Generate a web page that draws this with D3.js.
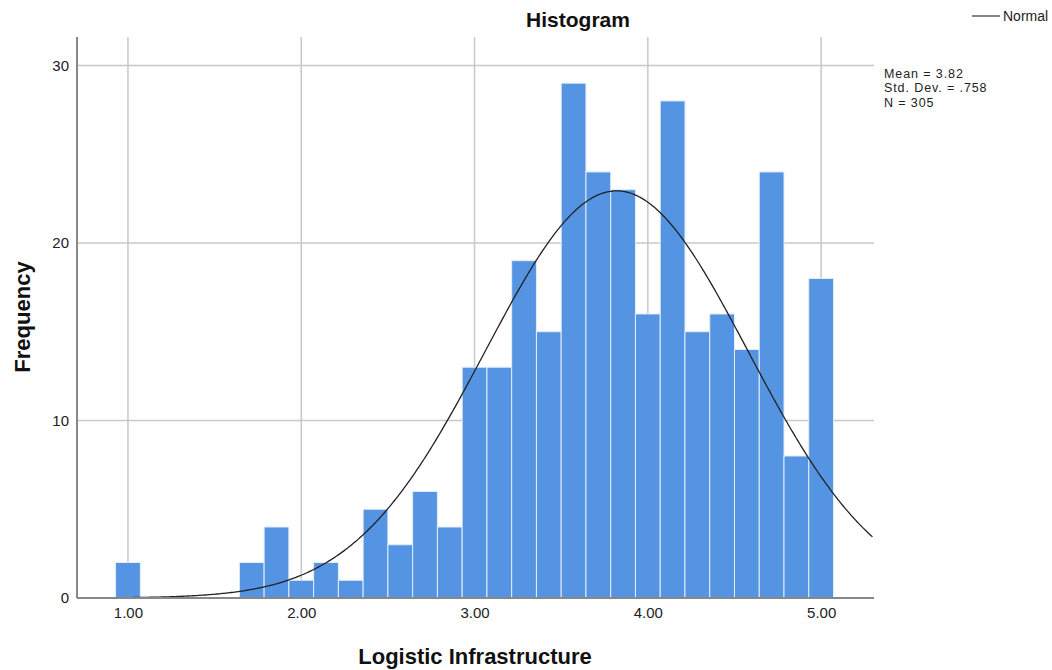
<!DOCTYPE html>
<html><head><meta charset="utf-8">
<script src="https://cdn.jsdelivr.net/npm/d3@7"></script>
<style>body{margin:0;background:#fff}svg{font-family:"Liberation Sans",Arial,sans-serif}</style>
</head><body><svg id="c" width="1052" height="670"></svg>
<script>
const binCenters = [1.0, 1.7143, 1.8571, 2.0, 2.1429, 2.2857, 2.4286, 2.5714, 2.7143, 2.8571, 3.0, 3.1429, 3.2857, 3.4286, 3.5714, 3.7143, 3.8571, 4.0, 4.1429, 4.2857, 4.4286, 4.5714, 4.7143, 4.8571, 5.0];
const counts = [2, 2, 4, 1, 2, 1, 5, 3, 6, 4, 13, 13, 19, 15, 29, 24, 23, 16, 28, 15, 16, 14, 24, 8, 18];
const binWidth = 1/7;
const xTicks = [1, 2, 3, 4, 5];
const yTicks = [0, 10, 20, 30];
const stats = {mean: 3.82, sd: 0.758, n: 305};
const statLabels = ["Mean = 3.82", "Std. Dev. = .758", "N = 305"];

const svg = d3.select("#c");
const L = 77, R = 874, T = 37, B = 598;
const x = d3.scaleLinear().domain([0.706, 5.305]).range([L, R]);
const y = d3.scaleLinear().domain([0, 31.6]).range([B, T]);

// gridlines
svg.append("g").selectAll("line").data(xTicks).join("line")
  .attr("x1", d => x(d)).attr("x2", d => x(d)).attr("y1", T).attr("y2", B)
  .attr("stroke", "#c8c8c8").attr("stroke-width", 1.5);
svg.append("g").selectAll("line").data(yTicks.filter(d => d > 0)).join("line")
  .attr("x1", L).attr("x2", R).attr("y1", d => y(d)).attr("y2", d => y(d))
  .attr("stroke", "#c8c8c8").attr("stroke-width", 1.5);

// bars
svg.append("g").selectAll("rect").data(binCenters).join("rect")
  .attr("x", (d) => x(d - binWidth/2))
  .attr("width", (d) => x(d + binWidth/2) - x(d - binWidth/2))
  .attr("y", (d, i) => y(counts[i]))
  .attr("height", (d, i) => y(0) - y(counts[i]))
  .attr("fill", "#5594e2").attr("stroke", "#e4edf9").attr("stroke-width", 1);

// normal curve
const xs = d3.range(0.706, 5.306, 0.01);
const pdf = v => stats.n * binWidth * Math.exp(-0.5 * ((v - stats.mean)/stats.sd)**2) / (stats.sd * Math.sqrt(2*Math.PI));
svg.append("path").datum(xs)
  .attr("d", d3.line().x(d => x(d)).y(d => y(pdf(d))))
  .attr("fill", "none").attr("stroke", "#222").attr("stroke-width", 1.3);

// axes
const xAxis = svg.append("g").attr("transform", `translate(0,${B})`)
  .call(d3.axisBottom(x).tickValues(xTicks).tickFormat(d3.format(".2f")).tickSize(0).tickPadding(9));
const yAxis = svg.append("g").attr("transform", `translate(${L},0)`)
  .call(d3.axisLeft(y).tickValues(yTicks).tickFormat(d3.format("d")).tickSize(0).tickPadding(8));
[xAxis, yAxis].forEach(a => {
  a.select(".domain").attr("stroke", "#888").attr("stroke-width", 2);
  a.selectAll("text").attr("font-size", 15).attr("fill", "#222").attr("font-family", "Liberation Sans, Arial, sans-serif");
});
xAxis.select(".domain").attr("d", `M${L},0H${R}`);
yAxis.select(".domain").attr("d", `M0,${T}V${B}`);

// titles
svg.append("text").attr("x", 578).attr("y", 27).attr("text-anchor", "middle")
  .attr("font-size", 21).attr("font-weight", "bold").attr("fill", "#111").text("Histogram");
svg.append("text").attr("x", 475).attr("y", 664).attr("text-anchor", "middle")
  .attr("font-size", 22).attr("font-weight", "bold").attr("fill", "#111").text("Logistic Infrastructure");
svg.append("text").attr("transform", "translate(30,317) rotate(-90)").attr("text-anchor", "middle")
  .attr("font-size", 22).attr("font-weight", "bold").attr("fill", "#111").text("Frequency");

// legend
svg.append("line").attr("x1", 972).attr("x2", 1000).attr("y1", 16).attr("y2", 16).attr("stroke", "#444").attr("stroke-width", 1.3);
svg.append("text").attr("x", 1003).attr("y", 21).attr("font-size", 14).attr("fill", "#222").text("Normal");

// stats
svg.append("g").selectAll("text").data(statLabels).join("text")
  .attr("x", 884).attr("y", (d, i) => 77.5 + i * 14.5).attr("font-size", 12.5)
  .attr("letter-spacing", 0.9).attr("fill", "#222").text(d => d);
</script></body></html>
